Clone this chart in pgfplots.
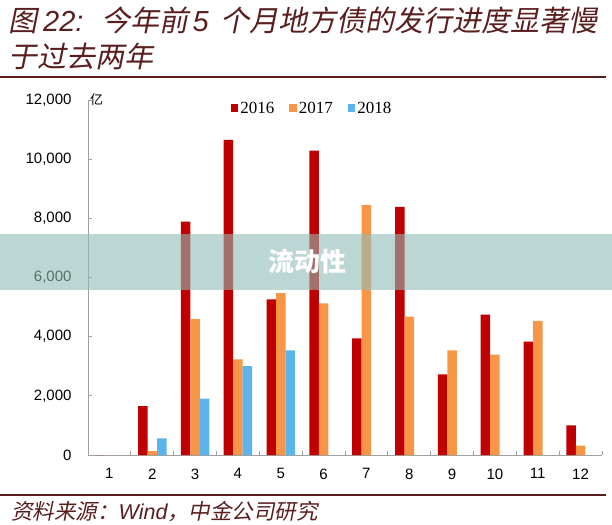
\documentclass[border=0pt]{standalone}
\usepackage{fontspec}
\usepackage{pgfplots}
\pgfplotsset{compat=1.18}
\setmainfont{Liberation Sans}
\newfontfamily\cjk{Noto Sans CJK SC}
\newfontfamily\cjksl[FakeSlant=0.2]{Noto Sans CJK SC}
\newfontfamily\serif{Liberation Serif}

\definecolor{c16}{HTML}{C00000}
\definecolor{c17}{HTML}{F79646}
\definecolor{c18}{HTML}{5BB4EC}
\definecolor{maroon}{HTML}{5A1E1E}
\definecolor{band}{HTML}{90BBB5}
\definecolor{axgray}{HTML}{A0A0A0}

\newcommand\tfont{\fontsize{29bp}{31bp}\selectfont}

\begin{document}
\begin{tikzpicture}
\useasboundingbox (0,0) rectangle (612bp,-525bp);

% title
\node[anchor=base west, inner sep=0pt, text=maroon,
  font=\cjksl\tfont] at (8bp,-31bp)
  {图\hspace{6bp}{\normalfont\itshape\tfont 22:}\hspace{18bp}今年前\hspace{4bp}{\normalfont\itshape\tfont 5}\hspace{12bp}个月地方债的发行进度显著慢};
\node[anchor=base west, inner sep=0pt, text=maroon,
  font=\cjksl\tfont] at (8bp,-67bp) {于过去两年};
\draw[maroon, line width=1.5bp] (0,-77bp) -- (606bp,-77bp);

\begin{axis}[
  at={(88bp,-455bp)}, anchor=south west,
  scale only axis, width=514bp, height=355bp,
  xmin=0.5, xmax=12.5, ymin=0, ymax=12000,
  ybar=0pt, bar width=9.5bp,
  axis x line*=bottom, axis y line*=left,
  axis line style={draw=axgray, line width=1bp},
  xtick={0.5,1.5,...,12.5},
  x tick label as interval,
  xticklabels={1,2,3,4,5,6,7,8,9,10,11,12},
  ytick={0,2000,...,12000},
  scaled y ticks=false,
  /pgf/number format/1000 sep={,},
  /pgf/number format/assume math mode=true,
  tick align=inside, major tick length=4bp,
  tick style={draw=axgray, line width=0.8bp},
  ticklabel style={font=\fontsize{15bp}{18bp}\selectfont},
  yticklabel style={xshift=-13bp},
  xticklabel style={yshift=-10bp},
  legend style={at={(0.436,0.977)}, anchor=center, draw=none, fill=none,
    legend columns=3, font=\serif\fontsize{17bp}{19bp}\selectfont,
    /tikz/every even column/.append style={column sep=13bp}},
  legend cell align=left,
  clip=false,
]
\addplot[fill=c16, draw=none,
  legend image code/.code={\fill[c16] (0bp,-3.8bp) rectangle (7.5bp,3.8bp);}]
  coordinates {(1,0) (2,1656) (3,7890) (4,10650) (5,5263) (6,10290)
               (7,3945) (8,8390) (9,2728) (10,4743) (11,3830) (12,1004)};
\addplot[fill=c17, draw=none,
  legend image code/.code={\fill[c17] (0bp,-3.8bp) rectangle (7.5bp,3.8bp);}]
  coordinates {(2,135) (3,4597) (4,3235) (5,5476) (6,5127)
               (7,8450) (8,4675) (9,3539) (10,3390) (11,4530) (12,314)};
\addplot[fill=c18, draw=none,
  legend image code/.code={\fill[c18] (0bp,-3.8bp) rectangle (7.5bp,3.8bp);}]
  coordinates {(2,565) (3,1903) (4,3005) (5,3537)};
\legend{2016,2017,2018}
\node[anchor=west, inner sep=0pt, font=\cjk\fontsize{13bp}{14bp}\selectfont]
  at (rel axis cs:0,1) [xshift=2bp] {亿};
\end{axis}

% source
\draw[maroon, line width=1.5bp] (0,-495bp) -- (606bp,-495bp);
\node[anchor=base west, inner sep=0pt, text=maroon,
  font=\cjksl\fontsize{21.5bp}{24bp}\selectfont] at (11bp,-519bp)
  {资料来源：{\normalfont\itshape\fontsize{21.5bp}{24bp}\selectfont Wind}，中金公司研究};

% watermark band
\fill[band, opacity=0.6] (0,-234bp) rectangle (612bp,-290bp);
\node[text=white, font=\cjk\bfseries\fontsize{26bp}{28bp}\selectfont]
  at (307bp,-262bp) {流动性};
\end{tikzpicture}
\end{document}
